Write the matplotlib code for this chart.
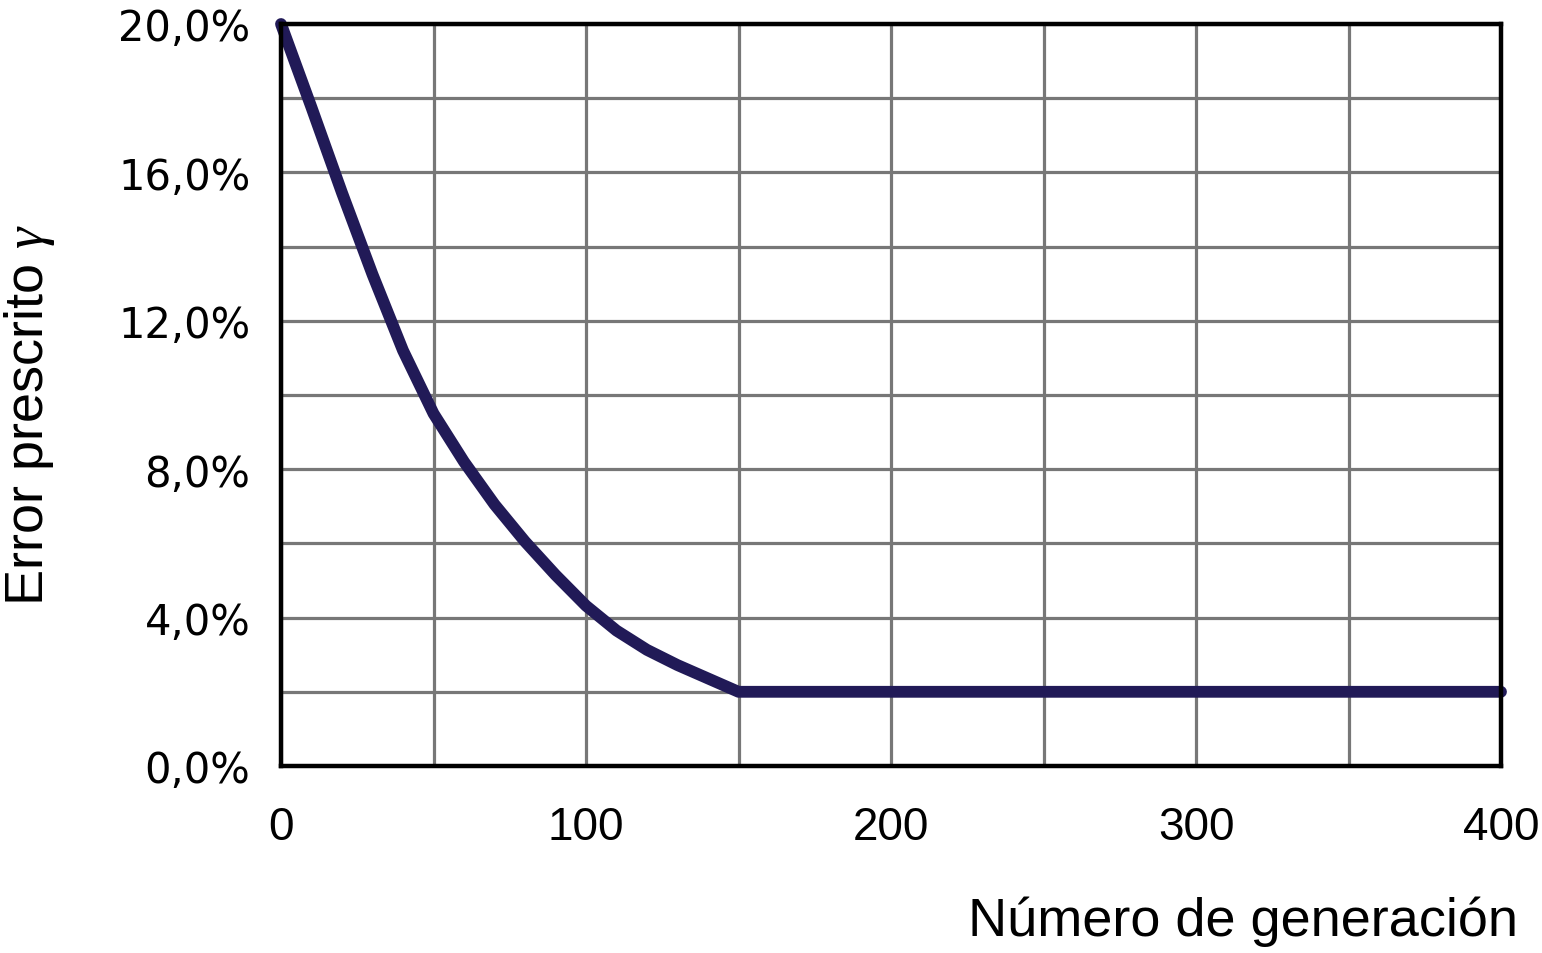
import matplotlib
matplotlib.use("Agg")
import matplotlib.pyplot as plt
from matplotlib.ticker import MultipleLocator, FixedLocator, FuncFormatter

generation = [0, 10, 20, 30, 40, 50, 60, 70, 80, 90, 100, 110, 120, 130, 140, 150, 400]
error_pct = [20.0, 17.75, 15.45, 13.25, 11.2, 9.5, 8.2, 7.05, 6.05, 5.15, 4.32, 3.65, 3.13, 2.72, 2.36, 2.0, 2.0]
x_ticks = [0, 100, 200, 300, 400]
y_ticks = [0, 4, 8, 12, 16, 20]

plt.rcParams["mathtext.fontset"] = "custom"
plt.rcParams["mathtext.it"] = "Liberation Serif:italic"

fig = plt.figure(figsize=(15.42, 9.54), dpi=100)
ax = fig.add_axes([281/1542, 1-767/954, (1501-281)/1542, (767-25)/954])

ax.plot(generation, error_pct, color="#211a57", lw=8.5, solid_capstyle="round",
        solid_joinstyle="round", zorder=3, clip_on=False)

ax.set_xlim(0, 400)
ax.set_ylim(0, 20)
ax.xaxis.set_major_locator(FixedLocator(x_ticks))
ax.xaxis.set_minor_locator(MultipleLocator(50))
ax.yaxis.set_major_locator(FixedLocator(y_ticks))
ax.yaxis.set_minor_locator(MultipleLocator(2))
ax.yaxis.set_major_formatter(FuncFormatter(lambda v, p: f"{v:.1f}".replace(".", ",") + "%"))

ax.grid(True, which="both", color="#777777", lw=2.3, zorder=1)
ax.set_axisbelow(True)
for s in ax.spines.values():
    s.set_linewidth(3.2)
    s.set_color("black")
    s.set_zorder(4)
ax.tick_params(which="both", length=0)
ax.tick_params(axis="y", pad=22, labelsize=30)
ax.tick_params(axis="x", pad=28, labelsize=33)
for lab in ax.get_yticklabels():
    lab.set_fontfamily("DejaVu Sans")
for lab in ax.get_xticklabels():
    lab.set_fontfamily("Liberation Sans")

fig.text(1518/1542, 1-922/954, "Número de generación", ha="right", va="center",
         fontsize=39, family="Liberation Sans")
fig.text(30/1542, 1-415/954, r"Error prescrito $\gamma$", ha="center", va="center",
         rotation=90, fontsize=39, family="Liberation Sans")

fig.savefig("out.png", dpi=100)
